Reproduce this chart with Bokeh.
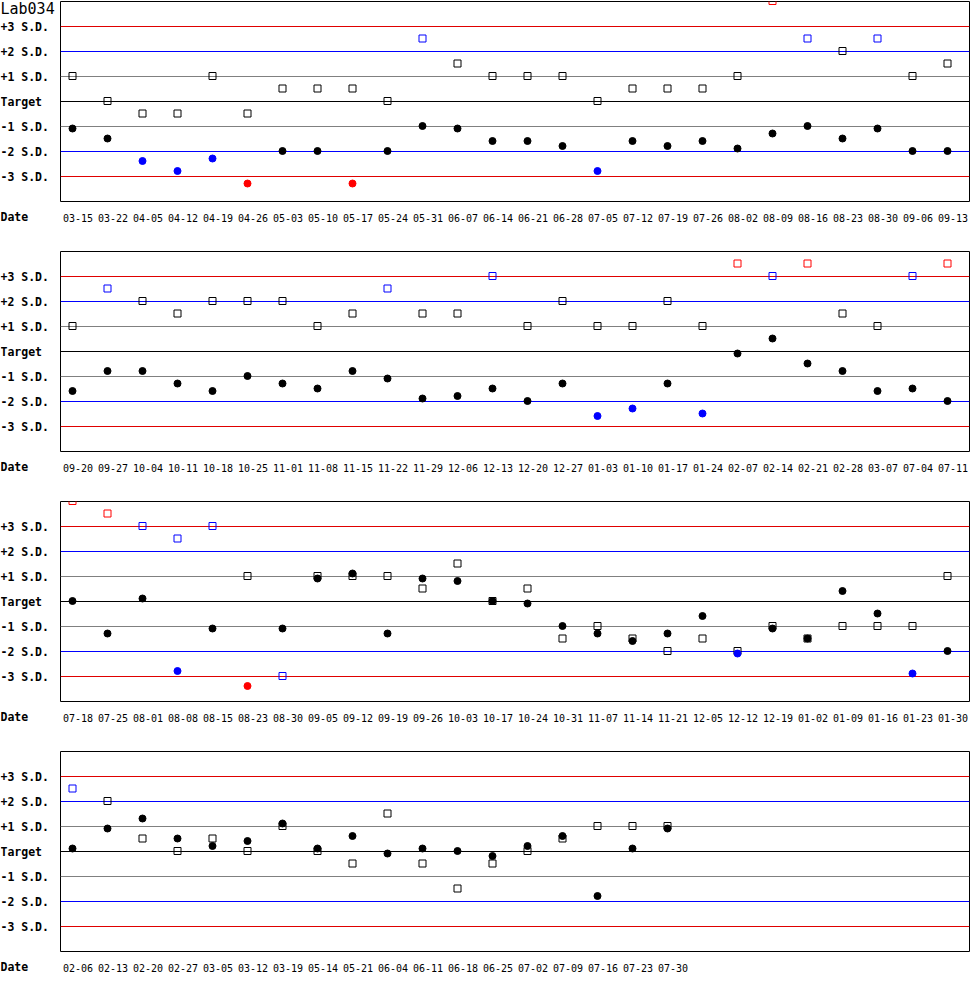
from bokeh.plotting import figure
from bokeh.models import FixedTicker, Range1d, ColumnDataSource
from bokeh.layouts import column, row
from bokeh.core.properties import value
from bokeh.embed import file_html
from bokeh.resources import INLINE

# ---------------- data ----------------
chart_title = "Lab034"
sd_levels = [3, 2, 1, 0, -1, -2, -3]
sd_labels = ["+3 S.D.", "+2 S.D.", "+1 S.D.", "Target", "-1 S.D.", "-2 S.D.", "-3 S.D."]
date_title = "Date"

dates_1 = ["03-15", "03-22", "04-05", "04-12", "04-19", "04-26", "05-03", "05-10", "05-17",
           "05-24", "05-31", "06-07", "06-14", "06-21", "06-28", "07-05", "07-12", "07-19",
           "07-26", "08-02", "08-09", "08-16", "08-23", "08-30", "09-06", "09-13"]
squares_1 = [1.0, 0.0, -0.5, -0.5, 1.0, -0.5, 0.5, 0.5, 0.5, 0.0, 2.5, 1.5, 1.0,
             1.0, 1.0, 0.0, 0.5, 0.5, 0.5, 1.0, 4.0, 2.5, 2.0, 2.5, 1.0, 1.5]
circles_1 = [-1.1, -1.5, -2.4, -2.8, -2.3, -3.3, -2.0, -2.0, -3.3, -2.0, -1.0, -1.1, -1.6,
             -1.6, -1.8, -2.8, -1.6, -1.8, -1.6, -1.9, -1.3, -1.0, -1.5, -1.1, -2.0, -2.0]

dates_2 = ["09-20", "09-27", "10-04", "10-11", "10-18", "10-25", "11-01", "11-08", "11-15",
           "11-22", "11-29", "12-06", "12-13", "12-20", "12-27", "01-03", "01-10", "01-17",
           "01-24", "02-07", "02-14", "02-21", "02-28", "03-07", "07-04", "07-11"]
squares_2 = [1.0, 2.5, 2.0, 1.5, 2.0, 2.0, 2.0, 1.0, 1.5, 2.5, 1.5, 1.5, 3.0,
             1.0, 2.0, 1.0, 1.0, 2.0, 1.0, 3.5, 3.0, 3.5, 1.5, 1.0, 3.0, 3.5]
circles_2 = [-1.6, -0.8, -0.8, -1.3, -1.6, -1.0, -1.3, -1.5, -0.8, -1.1, -1.9, -1.8, -1.5,
             -2.0, -1.3, -2.6, -2.3, -1.3, -2.5, -0.1, 0.5, -0.5, -0.8, -1.6, -1.5, -2.0]

dates_3 = ["07-18", "07-25", "08-01", "08-08", "08-15", "08-23", "08-30", "09-05", "09-12",
           "09-19", "09-26", "10-03", "10-17", "10-24", "10-31", "11-07", "11-14", "11-21",
           "12-05", "12-12", "12-19", "01-02", "01-09", "01-16", "01-23", "01-30"]
squares_3 = [4.0, 3.5, 3.0, 2.5, 3.0, 1.0, -3.0, 1.0, 1.0, 1.0, 0.5, 1.5, 0.0,
             0.5, -1.5, -1.0, -1.5, -2.0, -1.5, -2.0, -1.0, -1.5, -1.0, -1.0, -1.0, 1.0]
circles_3 = [0.0, -1.3, 0.1, -2.8, -1.1, -3.4, -1.1, 0.9, 1.1, -1.3, 0.9, 0.8, 0.0,
             -0.1, -1.0, -1.3, -1.6, -1.3, -0.6, -2.1, -1.1, -1.5, 0.4, -0.5, -2.9, -2.0]

dates_4 = ["02-06", "02-13", "02-20", "02-27", "03-05", "03-12", "03-19", "05-14", "05-21",
           "06-04", "06-11", "06-18", "06-25", "07-02", "07-09", "07-16", "07-23", "07-30"]
squares_4 = [2.5, 2.0, 0.5, 0.0, 0.5, 0.0, 1.0, 0.0, -0.5, 1.5, -0.5, -1.5, -0.5,
             0.0, 0.5, 1.0, 1.0, 1.0]
circles_4 = [0.1, 0.9, 1.3, 0.5, 0.2, 0.4, 1.1, 0.1, 0.6, -0.1, 0.1, 0.0, -0.2,
             0.2, 0.6, -1.8, 0.1, 0.9]

panels = [(dates_1, squares_1, circles_1), (dates_2, squares_2, circles_2),
          (dates_3, squares_3, circles_3), (dates_4, squares_4, circles_4)]

# ---------------- styling ----------------
N_SLOTS = 26
FRAME_W = 909
FRAME_H = 200
LEFT = 60
TOP = 1
X_START, X_END = -12 / 35, N_SLOTS - 1 + 22 / 35
PX_X = FRAME_W / (X_END - X_START)
LABEL_SHIFT = 5.5 / PX_X                # date labels sit a little right of their points
PX_Y = FRAME_H / 8.0                    # pixels per S.D.
Y_SHIFT = -0.5 / PX_Y                   # half-pixel shift so 1px rules render crisp
Y_START, Y_END = -4 + Y_SHIFT, 4 + Y_SHIFT
MONO = "DejaVu Sans Mono"

RED_MARK, BLUE_MARK, BLACK = "#ff0000", "#0000ff", "#000000"
LEVEL_COLORS = {3: "#e00000", 2: "#0000ff", 1: "#808080", 0: "#000000"}


def point_color(v):
    if abs(v) > 3:
        return RED_MARK
    if abs(v) > 2:
        return BLUE_MARK
    return BLACK


def make_label_column(total_h, first):
    """Narrow figure to the left holding the level names, 'Date' and the title."""
    y_top = Y_END + TOP / PX_Y
    y_bot = y_top - total_h / PX_Y
    q = figure(frame_width=LEFT, frame_height=total_h, min_border=0,
               x_range=Range1d(0, LEFT), y_range=Range1d(y_bot, y_top),
               x_axis_location=None, y_axis_location=None,
               output_backend="svg", toolbar_location=None,
               background_fill_color="white", border_fill_color="white")
    q.outline_line_color = None
    q.grid.grid_line_color = None
    q.text(x=[0] * len(sd_levels), y=sd_levels, text=sd_labels,
           text_font=value(MONO), text_font_size="11.5px", text_font_style="bold",
           text_baseline="middle", text_align="left", text_color="black")
    q.text(x=[0], y=[-4 - 14.5 / PX_Y], text=[date_title],
           text_font=value(MONO), text_font_size="11.5px", text_font_style="bold",
           text_baseline="middle", text_align="left", text_color="black")
    if first:
        q.text(x=[0], y=[4 - 6.5 / PX_Y], text=[chart_title],
               text_font=value(MONO), text_font_size="15px",
               text_baseline="middle", text_align="left", text_color="black")
    return q


def make_panel(dates, squares, circles, bottom):
    p = figure(frame_width=FRAME_W, frame_height=FRAME_H,
               min_border_left=0, min_border_right=1, min_border_top=TOP,
               min_border_bottom=bottom,
               x_range=Range1d(X_START, X_END), y_range=Range1d(Y_START, Y_END),
               y_axis_location=None, output_backend="svg", toolbar_location=None,
               background_fill_color="white", border_fill_color="white")
    p.grid.grid_line_color = None
    p.outline_line_color = "black"
    p.outline_line_width = 1
    p.outline_line_alpha = 1.0

    # reference lines (one call per level)
    for lvl in sd_levels:
        p.hspan(y=[lvl], line_color=LEVEL_COLORS[abs(lvl)], line_width=1)

    idx = list(range(len(dates)))
    sq_src = ColumnDataSource(dict(x=idx, y=squares, c=[point_color(v) for v in squares]))
    ci_src = ColumnDataSource(dict(x=idx, y=circles, c=[point_color(v) for v in circles]))
    p.scatter("x", "y", source=sq_src, marker="square", size=7, fill_color=None,
              line_color="c", line_width=1)
    p.scatter("x", "y", source=ci_src, marker="circle", size=7, fill_color="c",
              line_color="c", line_width=1)

    ticks = [i + LABEL_SHIFT for i in idx]
    ax = p.xaxis[0]
    ax.ticker = FixedTicker(ticks=ticks)
    ax.major_label_overrides = {t: d for t, d in zip(ticks, dates)}
    ax.axis_line_color = None
    ax.major_tick_line_color = None
    ax.minor_tick_line_color = None
    ax.major_tick_in = 0
    ax.major_tick_out = 0
    ax.major_label_standoff = 12
    ax.major_label_text_font = MONO
    ax.major_label_text_font_size = "10px"
    ax.major_label_text_color = "black"
    return p


rows = []
for k, (d, s, c) in enumerate(panels):
    last = k == len(panels) - 1
    bottom = 30 if last else 49
    total_h = TOP + FRAME_H + bottom
    rows.append(row(make_label_column(total_h, first=(k == 0)),
                    make_panel(d, s, c, bottom), spacing=0))

layout = column(*rows, spacing=0)
open("out.html", "w").write(file_html(layout, INLINE))
